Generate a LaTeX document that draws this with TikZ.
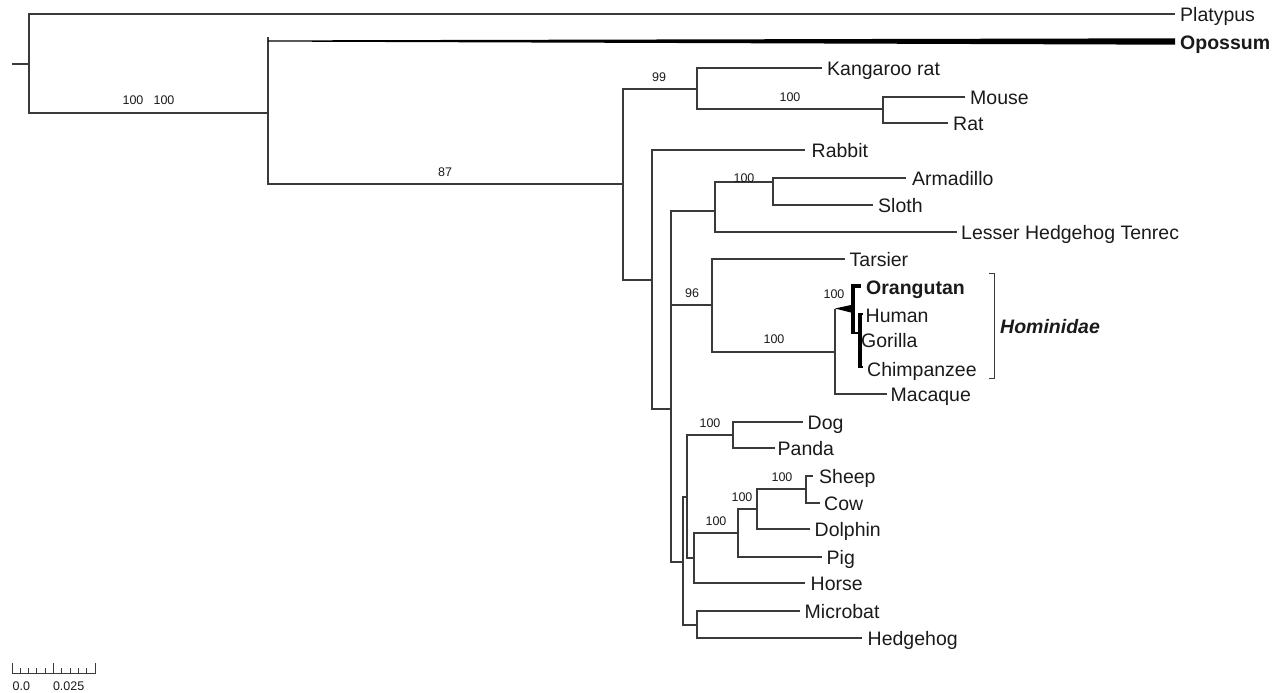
\documentclass[tikz,border=0pt]{standalone}
\usepackage{fontspec}
\setmainfont{Liberation Sans}
\definecolor{linec}{HTML}{3A3A3A}
\definecolor{txtc}{HTML}{1A1A1A}
\newcommand{\mkleaf}[6][]{%
  \coordinate (t#2) at (#3,#4);
  \node[leaf,#1] (#2) at (#5,#4+7.5) {#6};}
\begin{document}
\begin{tikzpicture}[x=1pt,y=-1pt,
  br/.style={draw=linec,line width=1.1pt},
  thickbr/.style={draw=black,line width=#1},
  leaf/.style={anchor=base west,inner sep=0pt,font=\fontsize{19.5}{22}\selectfont,text=txtc},
  boot/.style={inner sep=0pt,font=\fontsize{12.5}{14}\selectfont,text=txtc}]
\useasboundingbox (0,0) rectangle (1279,693);

% internal nodes
\coordinate (stub) at (12,64);
\coordinate (r) at (29,64);
\coordinate (n268) at (268,113);
\coordinate (oTop) at (268,37);
\coordinate (n623) at (623,184);
\coordinate (n697) at (697,89);
\coordinate (n883) at (883,109);
\coordinate (n652) at (652,280);
\coordinate (n671) at (671,409);
\coordinate (n715) at (715,211);
\coordinate (n773) at (773,182);
\coordinate (n712) at (712,305);
\coordinate (n835) at (835,352);
\coordinate (hw) at (835,308.5);
\coordinate (n683) at (683,562);
\coordinate (n687) at (687,497);
\coordinate (n733) at (733,435);
\coordinate (n694) at (694,558);
\coordinate (n738) at (738,533);
\coordinate (n757) at (757,509);
\coordinate (n806) at (806,489);
\coordinate (n697b) at (697,625);

% leaves
\mkleaf{Platypus}{1175}{14}{1180}{Platypus}
\mkleaf[font=\fontsize{19.5}{22}\selectfont\bfseries]{Opossum}{1175}{41.5}{1180}{Opossum}
\mkleaf{Kangaroo}{822}{68}{827}{Kangaroo rat}
\mkleaf{Mouse}{965}{97}{970}{Mouse}
\mkleaf{Rat}{948}{123}{953}{Rat}
\mkleaf{Rabbit}{805}{150}{811.5}{Rabbit}
\mkleaf{Armadillo}{906}{178}{912}{Armadillo}
\mkleaf{Sloth}{873}{205}{878}{Sloth}
\mkleaf{Tenrec}{957}{232}{961}{Lesser Hedgehog Tenrec}
\mkleaf{Tarsier}{845}{259}{849.5}{Tarsier}
\mkleaf{Macaque}{887}{394}{890.5}{Macaque}
\mkleaf{Dog}{803}{422}{807.5}{Dog}
\mkleaf{Panda}{775}{448}{777.5}{Panda}
\mkleaf{Sheep}{813}{476}{819}{Sheep}
\mkleaf{Cow}{820}{503}{824}{Cow}
\mkleaf{Dolphin}{810}{529}{814.5}{Dolphin}
\mkleaf{Pig}{822}{557}{826.5}{Pig}
\mkleaf{Horse}{805}{583}{810.5}{Horse}
\mkleaf{Microbat}{800}{611}{804.5}{Microbat}
\mkleaf{Hedgehog}{862}{638}{867.5}{Hedgehog}

% hominid leaves
\coordinate (hA1) at (852.5,283.5);
\coordinate (hA2) at (852.5,334);
\coordinate (tOrangutan) at (861,285.5);
\coordinate (hB1) at (860,312.5);
\coordinate (hB2) at (860,368);
\coordinate (hAb) at (858,333);
\coordinate (tHuman) at (863,314);
\coordinate (tChimp) at (863,367);
\node[leaf,font=\fontsize{19.5}{22}\selectfont\bfseries] (Orangutan) at (866,294) {Orangutan};
\node[leaf] (Human) at (865.5,322) {Human};
\node[leaf] (Gorilla) at (861,347.5) {Gorilla};
\node[leaf] (Chimpanzee) at (867,376) {Chimpanzee};

% branches
\draw[br] (stub) -- (r);
\draw[br] (r) |- (tPlatypus);
\draw[br] (r) |- (n268);
\draw[br] (n268) -- (oTop);
\draw[br] (n268) |- (n623);
\fill[black] (268,40.4) -- (1175,38.3) -- (1175,44.7) -- (268,41.6) -- cycle;
\draw[br] (n623) |- (n697);
\draw[br] (n623) |- (n652);
\draw[br] (n697) |- (tKangaroo);
\draw[br] (n697) |- (n883);
\draw[br] (n883) |- (tMouse);
\draw[br] (n883) |- (tRat);
\draw[br] (n652) |- (tRabbit);
\draw[br] (n652) |- (n671);
\draw[br] (n671) |- (n715);
\draw[br] (n671) |- (n712);
\draw[br] (n671) |- (n683);
\draw[br] (n715) |- (n773);
\draw[br] (n715) |- (tTenrec);
\draw[br] (n773) |- (tArmadillo);
\draw[br] (n773) |- (tSloth);
\draw[br] (n712) |- (tTarsier);
\draw[br] (n712) |- (n835);
\draw[br] (n835) -- (hw);
\draw[br] (n835) |- (tMacaque);
\fill[black] (hw) -- (851,305) -- (851,312.5) -- cycle;
\draw[thickbr=4pt] (hA1) -- (hA2);
\draw[thickbr=4pt] (hA1 |- tOrangutan) -- (tOrangutan);
\draw[thickbr=2.5pt] (hA2 |- hAb) -- (hAb);
\draw[thickbr=3.5pt] (hB1) -- (hB2);
\draw[thickbr=1.5pt] (hB1 |- tHuman) -- (tHuman);
\draw[thickbr=1.5pt] (hB1 |- tChimp) -- (tChimp);
\draw[br] (n683) |- (n687);
\draw[br] (n683) |- (n697b);
\draw[br] (n687) |- (n733);
\draw[br] (n687) |- (n694);
\draw[br] (n733) |- (tDog);
\draw[br] (n733) |- (tPanda);
\draw[br] (n694) |- (n738);
\draw[br] (n694) |- (tHorse);
\draw[br] (n738) |- (n757);
\draw[br] (n738) |- (tPig);
\draw[br] (n757) |- (n806);
\draw[br] (n757) |- (tDolphin);
\draw[br] (n806) |- (tSheep);
\draw[br] (n806) |- (tCow);
\draw[br] (n697b) |- (tMicrobat);
\draw[br] (n697b) |- (tHedgehog);

% bootstrap values
\node[boot] (b1) at (133,100) {100};
\node[boot] (b2) at (164,100) {100};
\node[boot] (b3) at (445,172) {87};
\node[boot] (b4) at (659,77) {99};
\node[boot] (b5) at (790,97) {100};
\node[boot] (b6) at (744,178) {100};
\node[boot] (b7) at (692,293) {96};
\node[boot] (b8) at (834,294) {100};
\node[boot] (b9) at (774,339) {100};
\node[boot] (b10) at (710,423) {100};
\node[boot] (b11) at (782,477) {100};
\node[boot] (b12) at (742,497) {100};
\node[boot] (b13) at (716,521) {100};

% Hominidae bracket
\coordinate (bk1) at (989,273);
\coordinate (bk2) at (994,273);
\coordinate (bk3) at (994,378.5);
\coordinate (bk4) at (989,378.5);
\draw[br,line width=1pt] (bk1) -- (bk2) -- (bk3) -- (bk4);
\node[leaf,font=\fontsize{19.5}{22}\selectfont\bfseries\itshape] (Hominidae) at (1000,333) {Hominidae};

% scale bar
\coordinate (s0) at (12,673);
\coordinate (s1) at (95,673);
\draw[br,line width=1pt] (12,663) -- (s0) -- (s1) -- (95,663);
\draw[br,line width=1pt] (53.5,663) -- (53.5,673);
\foreach \k in {1,2,3,4,6,7,8,9} \draw[br,line width=1pt] (12+8.3*\k,668) -- (12+8.3*\k,673);
\node[boot,anchor=base west] (sl0) at (12.4,690.5) {0.0};
\node[boot,anchor=base west] (sl1) at (52.8,690.5) {0.025};
\end{tikzpicture}
\end{document}
